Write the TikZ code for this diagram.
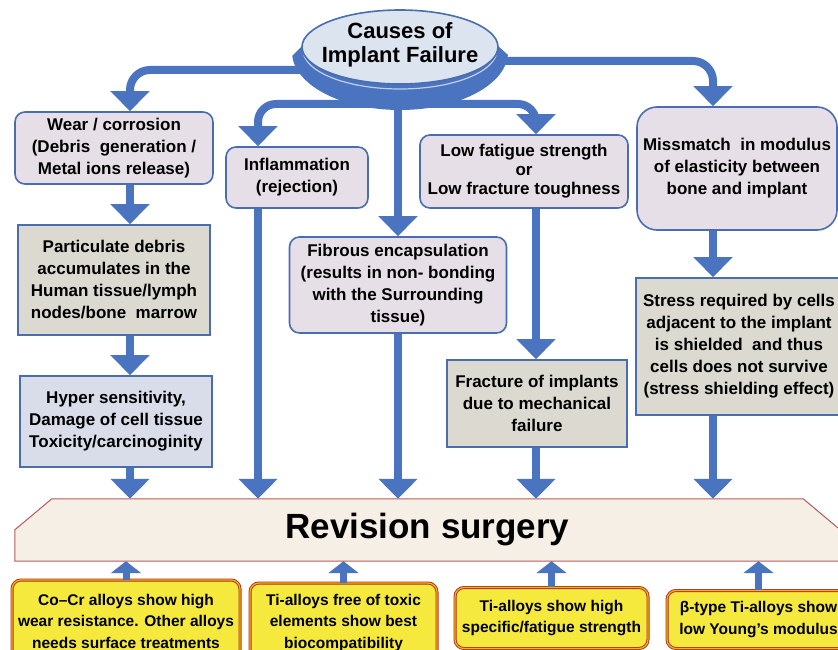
\documentclass[tikz,border=0pt]{standalone}
\usepackage{fontspec}
\setmainfont{Liberation Sans}
\usetikzlibrary{shapes.geometric, shapes.misc, arrows.meta}
\usetikzlibrary{calc}
\usetikzlibrary{positioning}
\usetikzlibrary{backgrounds}
\definecolor{flowblue}{HTML}{4A74C0}
\definecolor{edgeblue}{HTML}{4A6DB0}
\definecolor{causefill}{HTML}{E7DFE7}
\definecolor{effectfill}{HTML}{DCDAD0}
\definecolor{hyperfill}{HTML}{D9DDEA}
\definecolor{topfill}{HTML}{DCE4F0}
\definecolor{revfill}{HTML}{F6EFE6}
\definecolor{revedge}{HTML}{B85A5A}
\definecolor{alloyfill}{HTML}{F4E93C}
\definecolor{alloyedge}{HTML}{A8302E}

\begin{document}
\begin{tikzpicture}[x=1pt, y=-1pt,
    font=\bfseries\fontsize{17}{22}\selectfont,
    cause/.style={rectangle, rounded corners=10pt, draw=edgeblue, line width=1.6pt,
      fill=causefill, align=center, inner sep=0pt},
    effect/.style={rectangle, draw=edgeblue, line width=1.6pt,
      fill=effectfill, align=center, inner sep=0pt},
    alloy/.style={rectangle, rounded corners=9pt, draw=alloyedge, double=orange!60!yellow,
      double distance=1.2pt, line width=0.9pt, fill=alloyfill, align=center, inner sep=0pt,
      font=\bfseries\fontsize{15.5}{21.5}\selectfont},
    flow/.style={draw=flowblue, line width=8pt, -{Triangle[width=38pt,length=20pt]}},
    lift/.style={draw=flowblue, line width=7pt, -{Triangle[width=30pt,length=12pt]}},
  ]
  \clip (0,0) rectangle (838,650);

  \coordinate (colA) at (130,0);
  \coordinate (colB) at (258,0);
  \coordinate (colD) at (536,0);
  \coordinate (colE) at (713,0);
  \coordinate (hornL) at (330,70);
  \coordinate (hornR) at (470,61);
  \coordinate (bowlL) at (380,104);
  \coordinate (bowlR) at (420,104);
  \coordinate (bowlB) at (398,100);

  \node[cause, minimum width=198pt, minimum height=72pt] (wear) at (114,148)
    {Wear / corrosion\\(Debris~ generation /\\Metal ions release)};
  \node[effect, minimum width=192pt, minimum height=110pt] (partic) at (114,280)
    {Particulate debris\\accumulates in the\\Human tissue/lymph\\nodes/bone~ marrow};
  \node[effect, fill=hyperfill, minimum width=192pt, minimum height=91pt] (hyper) at (116,421.5)
    {Hyper sensitivity,\\Damage of cell tissue\\Toxicity/carcinoginity};
  \node[cause, minimum width=142pt, minimum height=61pt] (infl) at (297,177.5)
    {Inflammation\\(rejection)};
  \node[cause, minimum width=217pt, minimum height=96pt] (fibrous) at (398,285)
    {Fibrous encapsulation\\(results in non- bonding\\with the Surrounding\\tissue)};
  \node[cause, minimum width=208pt, minimum height=73pt, font=\bfseries\fontsize{17}{19}\selectfont]
    (lowfat) at (524,171.5) {Low fatigue strength\\or\\Low fracture toughness};
  \node[cause, rounded corners=20pt, minimum width=200pt, minimum height=123pt] (mismatch) at (737,168.5)
    {Missmatch~ in modulus\\of elasticity between\\bone and implant};
  \node[effect, minimum width=180pt, minimum height=87pt] (fracture) at (537,403.5)
    {Fracture of implants\\due to mechanical\\failure};
  \node[effect, minimum width=206pt, minimum height=137pt] (stress) at (739,346.5)
    {Stress required by cells\\adjacent to the implant\\is shielded~ and thus\\cells does not survive\\(stress shielding effect)};

  \node[inner sep=0pt, minimum width=825pt, minimum height=62pt,
    font=\bfseries\fontsize{35}{40}\selectfont] (rev) at (427.5,530) {Revision surgery};
  \begin{scope}[on background layer]
    \filldraw[draw=revedge, line width=1pt, fill=revfill]
      ($(rev.north west)+(37,0)$) -- ($(rev.north east)+(-37,0)$) -- ($(rev.north east)+(0,31)$)
      -- (rev.south east) -- (rev.south west) -- ($(rev.north west)+(0,31)$) -- cycle;
  \end{scope}

  \node[alloy, minimum width=228pt, minimum height=82pt] (alloyA) at (126,621)
    {Co–Cr alloys show high\\wear resistance. Other alloys\\needs surface treatments};
  \node[alloy, minimum width=187pt, minimum height=79pt] (alloyB) at (343.5,622.5)
    {Ti-alloys free of toxic\\elements show best\\biocompatibility};
  \node[alloy, minimum width=193pt, minimum height=61pt] (alloyC) at (551.5,618)
    {Ti-alloys show high\\specific/fatigue strength};
  \node[alloy, minimum width=183pt, minimum height=58pt] (alloyD) at (758.5,619.5)
    {β-type Ti-alloys show\\low Young's modulus};

  \draw[flow, rounded corners=20pt] (hornL) -| (wear.north -| colA);
  \draw[flow, rounded corners=20pt] (hornR) -| (mismatch.north -| colE);
  \draw[flow, rounded corners=18pt] (bowlL) -| (infl.north -| colB);
  \draw[flow, rounded corners=18pt] (bowlR) -| (lowfat.north -| colD);
  \draw[flow] (bowlB) -- (fibrous.north);

  \draw[flow] (wear.south -| colA) -- (partic.north -| colA);
  \draw[flow] (partic.south -| colA) -- (hyper.north -| colA);
  \draw[flow] (hyper.south -| colA) -- (rev.north -| colA);
  \draw[flow] (infl.south -| colB) -- (rev.north -| colB);
  \draw[flow] (fibrous.south) -- (rev.north -| fibrous.south);
  \draw[flow] (lowfat.south -| colD) -- (fracture.north -| colD);
  \draw[flow] (fracture.south -| colD) -- (rev.north -| colD);
  \draw[flow] (mismatch.south -| colE) -- (stress.north -| colE);
  \draw[flow] (stress.south -| colE) -- (rev.north -| colE);

  \draw[lift] (alloyA.north) -- (rev.south -| alloyA.north);
  \draw[lift] (alloyB.north) -- (rev.south -| alloyB.north);
  \draw[lift] (alloyC.north) -- (rev.south -| alloyC.north);
  \draw[lift] (alloyD.north) -- (rev.south -| alloyD.north);

  \begin{scope}
    \clip (284,64) -- (302,46) -- (498,46) -- (516,62) -- (516,120) -- (284,120) -- cycle;
    \fill[flowblue] (400,52) ellipse [x radius=108, y radius=58];
  \end{scope}
  \draw[white!65!flowblue, line width=1.2pt] (303,50) arc[start angle=180, end angle=0, x radius=97, y radius=39];
  \draw[edgeblue, line width=1.6pt, fill=topfill] (400,47) ellipse [x radius=98, y radius=37];
  \node[align=center, font=\bfseries\fontsize{22}{24}\selectfont] (cause) at (400,45)
    {Causes of\\Implant Failure};
\end{tikzpicture}
\end{document}
